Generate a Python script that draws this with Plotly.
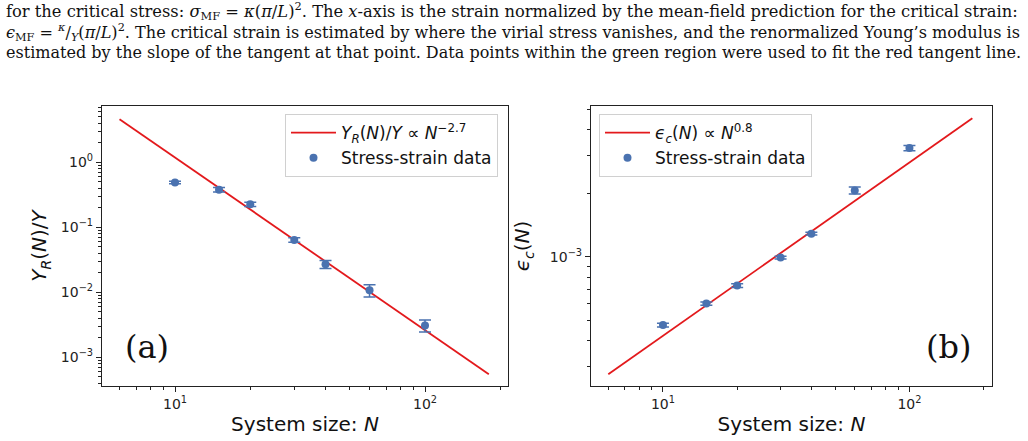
import plotly.graph_objects as go

# ---------------- data ----------------
N = [10, 15, 20, 30, 40, 60, 100]
YR_over_Y = [0.49, 0.38, 0.226, 0.064, 0.027, 0.0108, 0.0031]
YR_err = [0.02, 0.029, 0.017, 0.005, 0.0038, 0.0023, 0.00065]
eps_c = [4.74e-4, 5.99e-4, 7.3e-4, 9.9e-4, 1.285e-3, 2.06e-3, 3.27e-3]
eps_err = [1.0e-5, 1.0e-5, 1.5e-5, 1.5e-5, 2.0e-5, 8.0e-5, 9.0e-5]

fit_N = [6, 180]
fit_YR = [4.6, 5.5e-4]
fit_eps = [2.77e-4, 4.53e-3]

x_tickvals = [10, 100]
x_ticktext = ["10<sup>1</sup>", "10<sup>2</sup>"]
ya_tickvals = [1, 0.1, 0.01, 0.001]
ya_ticktext = ["10<sup>0</sup>", "10<sup>−1</sup>", "10<sup>−2</sup>", "10<sup>−3</sup>"]
yb_tickvals = [0.001]
yb_ticktext = ["10<sup>−3</sup>"]

caption = [
    "for the critical stress: <i>σ</i><sub>MF</sub> = <i>κ</i>(<i>π</i>/<i>L</i>)<sup>2</sup>. "
    "The <i>x</i>-axis is the strain normalized by the mean-field prediction for the critical strain:",
    "<i>ϵ</i><sub>MF</sub> = <sup><i>κ</i></sup>/<sub><i>Y</i></sub>(<i>π</i>/<i>L</i>)<sup>2</sup>. "
    "The critical strain is estimated by where the virial stress vanishes, and the renormalized Young’s modulus is",
    "estimated by the slope of the tangent at that point. Data points within the green region were used to fit the red tangent line.",
]
caption_sizes = [16.3, 16.1, 16.05]

BLUE = "#4a72b0"
RED = "#e3191c"
W, H = 1028, 441

fig = go.Figure()

# panel (a)
fig.add_trace(go.Scatter(x=fit_N, y=fit_YR, mode="lines", line=dict(color=RED, width=1.8),
                         name="<i>Y<sub>R</sub></i>(<i>N</i>)/<i>Y</i> ∝ <i>N</i><sup>−2.7</sup>",
                         xaxis="x", yaxis="y", legend="legend"))
fig.add_trace(go.Scatter(x=N, y=YR_over_Y, mode="markers", marker=dict(color=BLUE, size=8),
                         error_y=dict(type="data", array=YR_err, color=BLUE, thickness=1.5, width=6),
                         name="Stress-strain data", xaxis="x", yaxis="y", legend="legend"))
# panel (b)
fig.add_trace(go.Scatter(x=fit_N, y=fit_eps, mode="lines", line=dict(color=RED, width=1.8),
                         name="<i>ϵ<sub>c</sub></i>(<i>N</i>) ∝ <i>N</i><sup>0.8</sup>",
                         xaxis="x2", yaxis="y2", legend="legend2"))
fig.add_trace(go.Scatter(x=N, y=eps_c, mode="markers", marker=dict(color=BLUE, size=8),
                         error_y=dict(type="data", array=eps_err, color=BLUE, thickness=1.5, width=6),
                         name="Stress-strain data", xaxis="x2", yaxis="y2", legend="legend2"))

def px_x(p):
    return p / W

def px_y(p):
    return 1 - p / H

minor_x = [k * 10 ** e for e in range(0, 3) for k in range(2, 10)]
minor_y = [k * 10.0 ** e for e in range(-5, 2) for k in range(2, 10)]
minor_style = dict(ticks="outside", ticklen=3, tickwidth=1, tickcolor="#222")

axis_common = dict(type="log", showgrid=False, zeroline=False, showline=True, mirror=True,
                   linecolor="#222", linewidth=1.2, ticks="outside", ticklen=5, tickwidth=1.2,
                   tickcolor="#222", tickmode="array",
                   tickfont=dict(family="DejaVu Sans", size=14, color="#222"))

xa_title = dict(text="System size: <i>N</i>", font=dict(family="DejaVu Sans", size=20, color="#111"), standoff=6)

legend_common = dict(bgcolor="rgba(255,255,255,0.8)", bordercolor="#d0d0d0", borderwidth=1,
                     font=dict(family="DejaVu Sans", size=17, color="#111"), tracegroupgap=0,
                     itemwidth=45)

fig.update_layout(
    width=W, height=H, margin=dict(l=0, r=0, t=0, b=0),
    paper_bgcolor="white", plot_bgcolor="white",
    xaxis=dict(axis_common, domain=[px_x(102), px_x(508)], range=[0.708, 2.332], anchor="y",
               tickvals=x_tickvals, ticktext=x_ticktext, title=xa_title,
               minor=dict(minor_style, tickvals=minor_x)),
    yaxis=dict(axis_common, domain=[px_y(386), px_y(106)], range=[-3.44, 0.866], anchor="x",
               tickvals=ya_tickvals, ticktext=ya_ticktext,
               title=dict(text="<i>Y</i><sub><i>R</i></sub>(<i>N</i>)/<i>Y</i>",
                          font=dict(family="DejaVu Sans", size=20, color="#111"), standoff=8),
               minor=dict(minor_style, tickvals=minor_y)),
    xaxis2=dict(axis_common, domain=[px_x(591), px_x(992)], range=[0.708, 2.335], anchor="y2",
                tickvals=x_tickvals, ticktext=x_ticktext, title=xa_title,
                minor=dict(minor_style, tickvals=minor_x)),
    yaxis2=dict(axis_common, domain=[px_y(386), px_y(106)], range=[-3.613, -2.286], anchor="x2",
                tickvals=yb_tickvals, ticktext=yb_ticktext,
                title=dict(text="<i>ϵ</i><sub><i>c</i></sub>(<i>N</i>)",
                           font=dict(family="DejaVu Sans", size=20, color="#111"), standoff=14),
                minor=dict(minor_style, tickvals=minor_y)),
    legend=dict(legend_common, x=px_x(498), xanchor="right", y=px_y(114), yanchor="top"),
    legend2=dict(legend_common, x=px_x(599), xanchor="left", y=px_y(114), yanchor="top"),
    showlegend=True,
)

annotations = []
for i, line in enumerate(caption):
    annotations.append(dict(text=line, x=px_x(4), y=px_y([11, 32, 53][i]), xref="paper", yref="paper",
                            xanchor="left", yanchor="middle", showarrow=False, align="left",
                            font=dict(family="DejaVu Serif", size=caption_sizes[i], color="#111")))
annotations.append(dict(text="(a)", x=px_x(147), y=px_y(347), xref="paper", yref="paper",
                        xanchor="center", yanchor="middle",
                        showarrow=False, font=dict(family="DejaVu Serif", size=32, color="#111")))
annotations.append(dict(text="(b)", x=px_x(948), y=px_y(347), xref="paper", yref="paper",
                        xanchor="center", yanchor="middle",
                        showarrow=False, font=dict(family="DejaVu Serif", size=32, color="#111")))
fig.update_layout(annotations=annotations)

fig.write_html("out.html")
